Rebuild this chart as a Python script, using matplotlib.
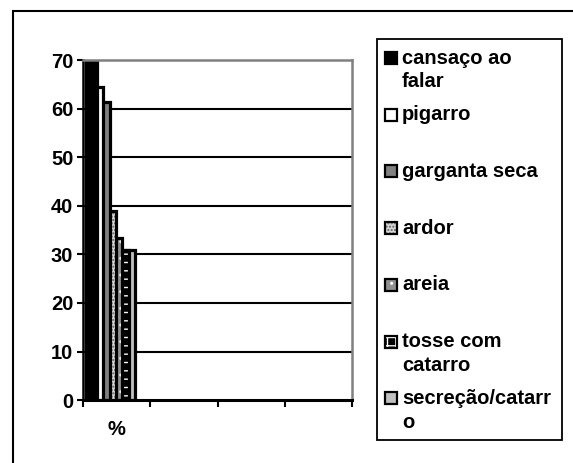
import matplotlib
matplotlib.use("Agg")
import matplotlib.pyplot as plt
from matplotlib.patches import Rectangle

plt.rcParams['font.family'] = ['Liberation Sans', 'DejaVu Sans']
plt.rcParams['font.weight'] = 'bold'
plt.rcParams['hatch.linewidth'] = 1.0

# data
categories = ['%', '', '', '']
series_names = ['cansaço ao\nfalar', 'pigarro', 'garganta seca', 'ardor',
                'areia', 'tosse com\ncatarro', 'secreção/catarr\no']
series_values = [70, 64.5, 61.5, 39, 33.5, 31, 31]
y_ticks = [0, 10, 20, 30, 40, 50, 60, 70]

# styles
face_colors = ['black', 'white', '#808080', '#d8d8d8', '#909090', 'black', '#c0c0c0']
hatches = [None, None, None, '.....', '..', '++', None]
hatch_colors = ['black', 'black', 'black', '#606060', 'white', 'white', 'black']

W, H = 573, 463


def fx(px):
    return px / W


def fy(py):
    return 1 - py / H


fig = plt.figure(figsize=(W / 100, H / 100), dpi=100)
ax = fig.add_axes([fx(83), fy(400), fx(352) - fx(83), fy(60.5) - fy(400)])

# overlapping bars, first series in front (Excel style)
n = len(series_values)
width = 0.16
step = 0.095
gap = 0.045
for i in range(n - 1, -1, -1):
    left = 0 + gap + i * step
    z = 10 + (n - i)
    if hatches[i]:
        ax.bar(left, series_values[i], width, align='edge', color=face_colors[i],
               edgecolor=hatch_colors[i], hatch=hatches[i], linewidth=0, zorder=z)
        ax.bar(left, series_values[i], width, align='edge', fill=False,
               edgecolor='black', linewidth=2.3, zorder=z)
    else:
        ax.bar(left, series_values[i], width, align='edge', color=face_colors[i],
               edgecolor='black', linewidth=2.3, zorder=z)

ax.set_xlim(0, len(categories))
ax.set_ylim(0, 70)
ax.set_yticks(y_ticks)
ax.set_yticklabels([str(t) for t in y_ticks], fontsize=14.5, fontweight='bold')
ax.set_xticks(range(len(categories) + 1))
ax.set_xticklabels([])
for j, c in enumerate(categories):
    ax.text(j + 0.5, -0.06, c, transform=ax.get_xaxis_transform(),
            ha='center', va='top', fontsize=14.5, fontweight='bold')

ax.tick_params(axis='y', length=4, width=1.5, pad=3)
ax.tick_params(axis='x', length=5, width=1.5, direction='out')

for t in y_ticks[1:-1]:
    ax.axhline(t, color='black', linewidth=1.5, zorder=2)

ax.spines['left'].set_color('black')
ax.spines['left'].set_linewidth(1.8)
ax.spines['bottom'].set_color('black')
ax.spines['bottom'].set_linewidth(2.2)
ax.spines['top'].set_color('#808080')
ax.spines['top'].set_linewidth(1.8)
ax.spines['right'].set_color('#808080')
ax.spines['right'].set_linewidth(1.8)
for s in ax.spines.values():
    s.set_zorder(30)

# outer chart border
fig.patches.append(Rectangle((fx(13), fy(480)), fx(600) - fx(13), fy(11) - fy(480),
                             transform=fig.transFigure, fill=False,
                             edgecolor='black', linewidth=1.5))

# legend box
fig.patches.append(Rectangle((fx(377), fy(440)), fx(562) - fx(377), fy(39) - fy(440),
                             transform=fig.transFigure, fill=False,
                             edgecolor='black', linewidth=1.3))

entry_gap = 56.7
line_gap = 24
for i, name in enumerate(series_names):
    y0 = 58 + i * entry_gap
    sq = 12
    fig.patches.append(Rectangle((fx(385), fy(y0 + sq / 2)), sq / W, sq / H,
                                 transform=fig.transFigure, facecolor=face_colors[i],
                                 edgecolor=hatch_colors[i] if hatches[i] else 'black',
                                 hatch=hatches[i], linewidth=0 if hatches[i] else 1.6))
    if hatches[i]:
        fig.patches.append(Rectangle((fx(385), fy(y0 + sq / 2)), sq / W, sq / H,
                                     transform=fig.transFigure, fill=False,
                                     edgecolor='black', linewidth=1.6))
    for k, line in enumerate(name.split('\n')):
        fig.text(fx(402), fy(y0 + k * line_gap), line, ha='left', va='center',
                 fontsize=14.5, fontweight='bold')

fig.savefig('out.png', dpi=100)
